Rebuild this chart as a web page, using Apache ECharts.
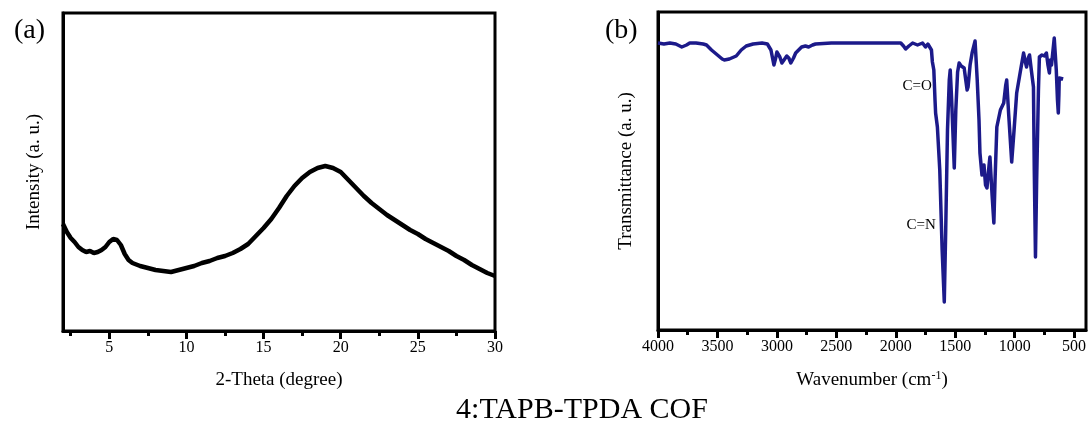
<!DOCTYPE html>
<html>
<head>
<meta charset="utf-8">
<script src="https://cdn.jsdelivr.net/npm/echarts@6/dist/echarts.min.js"></script>
<style>
html,body{margin:0;padding:0;background:#fff;}
#chart{width:1091px;height:421px;}
</style>
</head>
<body>
<div id="chart"></div>
<script>
// ---- Panel (a): XRD ----
const xrdTheta = [2.0,2.25,2.5,2.75,3.0,3.25,3.5,3.75,4.0,4.25,4.5,4.75,5.0,5.25,5.5,5.75,6.0,6.25,6.5,7.0,7.5,8.0,8.5,9.0,9.5,10.0,10.5,11.0,11.5,12.0,12.5,13.0,13.5,14.0,14.5,15.0,15.5,16.0,16.5,17.0,17.5,18.0,18.5,19.0,19.5,20.0,20.5,21.0,21.5,22.0,22.5,23.0,23.5,24.0,24.5,25.0,25.5,26.0,26.5,27.0,27.5,28.0,28.5,29.0,29.5,30.0];
const xrdIntensity = [107,99,93,89,84,81,79,80,78,79,81,84,89,92,91,86,77,71,68,65,63,61,60,59,61,63,65,68,70,73,75,78,82,87,95,103,112,123,135,145,153,159,163,165,163,159,151,143,135,128,122,116,111,106,101,97,92,88,84,80,75,71,66,62,58,55];
const xrdTicks = [5,10,15,20,25,30];
const xrdMinorTicks = [2.5,7.5,12.5,17.5,22.5,27.5];

// ---- Panel (b): FT-IR ----
const irWavenumber = [4000,3950,3900,3850,3800,3790,3760,3733,3680,3620,3592,3550,3500,3460,3442,3400,3342,3300,3258,3200,3125,3080,3050,3025,3010,3000,2975,2958,2940,2917,2900,2883,2860,2842,2792,2760,2733,2700,2675,2542,2300,2000,1958,1935,1917,1890,1858,1817,1775,1750,1730,1717,1700,1692,1680,1670,1665,1650,1630,1610,1592,1580,1565,1550,1542,1530,1508,1495,1480,1467,1450,1425,1400,1392,1375,1358,1333,1315,1300,1292,1275,1258,1245,1233,1215,1208,1190,1175,1165,1150,1120,1092,1075,1067,1050,1025,1005,983,950,925,910,900,885,875,860,842,835,825,815,800,792,770,750,733,720,708,700,690,667,650,640,633,628,625,610,592];
const irTransmittance = [287,286,287,286,283,281,285,287,287,286,285,280,275,271,270,271,274,280,284,286,287,286,280,265,272,278,273,267,270,274,272,267,272,277,283,284,283,285,286,287,287,287,287,284,281,284,287,285,287,283,286,287,280,268,260,230,217,203,160,80,28,100,200,250,260,230,162,220,258,267,264,262,240,243,265,277,289,250,210,177,155,165,145,142,165,173,135,107,150,203,220,227,245,250,215,168,200,237,260,277,268,263,272,275,260,243,160,73,150,240,273,275,274,277,265,257,270,265,292,260,230,217,235,252,252,251];
const irTicks = [500,1000,1500,2000,2500,3000,3500,4000];
const irMinorTicks = [750,1250,1750,2250,2750,3250,3750];
const irAnnotations = [
  {name:'C=O', wavenumber:1688, value:244},
  {name:'C=N', wavenumber:1655, value:105}
];

const FONT = '"Liberation Serif","Times New Roman",serif';

const chart = echarts.init(document.getElementById('chart'), null, {renderer:'canvas'});

function mainX(gridIndex, min, max, ticks, name, inverse){
  return {
    type:'value', gridIndex, min, max, inverse: !!inverse, position:'bottom',
    name, nameLocation:'middle', nameGap:40,
    nameTextStyle:{fontFamily:FONT, fontSize:19, color:'#000',
      rich:{sup:{fontFamily:FONT, fontSize:12, color:'#000', verticalAlign:'top', padding:[0,0,8,0]}}},
    axisLine:{show:true, onZero:false, lineStyle:{color:'#000', width:3}},
    axisTick:{show:true, customValues:ticks, length:8, lineStyle:{color:'#000', width:3}},
    axisLabel:{show:true, customValues:ticks, margin:9, fontFamily:FONT, fontSize:16, color:'#000',
      formatter: v => String(v)},
    splitLine:{show:false}
  };
}
function minorX(gridIndex, min, max, ticks, inverse){
  return {
    type:'value', gridIndex, min, max, inverse: !!inverse, position:'bottom', offset:0,
    axisLine:{show:false, onZero:false},
    axisTick:{show:true, customValues:ticks, length:5, lineStyle:{color:'#000', width:3}},
    axisLabel:{show:false},
    splitLine:{show:false}
  };
}
function yAx(gridIndex, name, gap){
  return {
    type:'value', gridIndex, min:0, max:318,
    name, nameLocation:'middle', nameGap:gap,
    nameTextStyle:{fontFamily:FONT, fontSize:19, color:'#000'},
    axisLine:{show:true, lineStyle:{color:'#000', width:3}},
    axisTick:{show:false}, axisLabel:{show:false}, splitLine:{show:false}
  };
}

const option = {
  animation:false,
  backgroundColor:'#fff',
  title:[
    {text:'(a)', left:9, top:12, textStyle:{fontFamily:FONT, fontSize:28, fontWeight:'normal', color:'#000'}},
    {text:'(b)', left:600, top:12, textStyle:{fontFamily:FONT, fontSize:28, fontWeight:'normal', color:'#000'}},
    {text:'4:TAPB-TPDA COF', left:577, top:390, textAlign:'center', textStyle:{fontFamily:FONT, fontSize:30, fontWeight:'normal', color:'#000'}}
  ],
  grid:[
    {left:63, right:596, top:13, bottom:90, show:true, borderColor:'#000', borderWidth:3, backgroundColor:'transparent'},
    {left:658, right:3, top:12, bottom:91, show:true, borderColor:'#000', borderWidth:3, backgroundColor:'transparent'}
  ],
  xAxis:[
    mainX(0, 2, 30, xrdTicks, '2-Theta (degree)'),
    minorX(0, 2, 30, xrdMinorTicks),
    mainX(1, 400, 4000, irTicks, 'Wavenumber (cm{sup|-1})', true),
    minorX(1, 400, 4000, irMinorTicks, true)
  ],
  yAxis:[
    yAx(0, 'Intensity (a. u.)', 19),
    yAx(1, 'Transmittance (a. u.)', 22)
  ],
  series:[
    {
      type:'line', xAxisIndex:0, yAxisIndex:0, showSymbol:false, symbol:'none',
      data: xrdTheta.map((t,i)=>[t, xrdIntensity[i]]),
      lineStyle:{color:'#000', width:4.5}
    },
    {
      type:'line', xAxisIndex:2, yAxisIndex:1, showSymbol:false, symbol:'none',
      data: irWavenumber.map((w,i)=>[w, irTransmittance[i]]),
      lineStyle:{color:'#1c1a8a', width:3.5, join:'round'},
      markPoint:{
        symbol:'circle', symbolSize:0, silent:true,
        label:{show:true, position:'left', distance:1, formatter:'{b}', fontFamily:FONT, fontSize:15, color:'#000'},
        data: irAnnotations.map(a=>({name:a.name, coord:[a.wavenumber, a.value]}))
      }
    }
  ]
};
chart.setOption(option);
</script>
</body>
</html>
